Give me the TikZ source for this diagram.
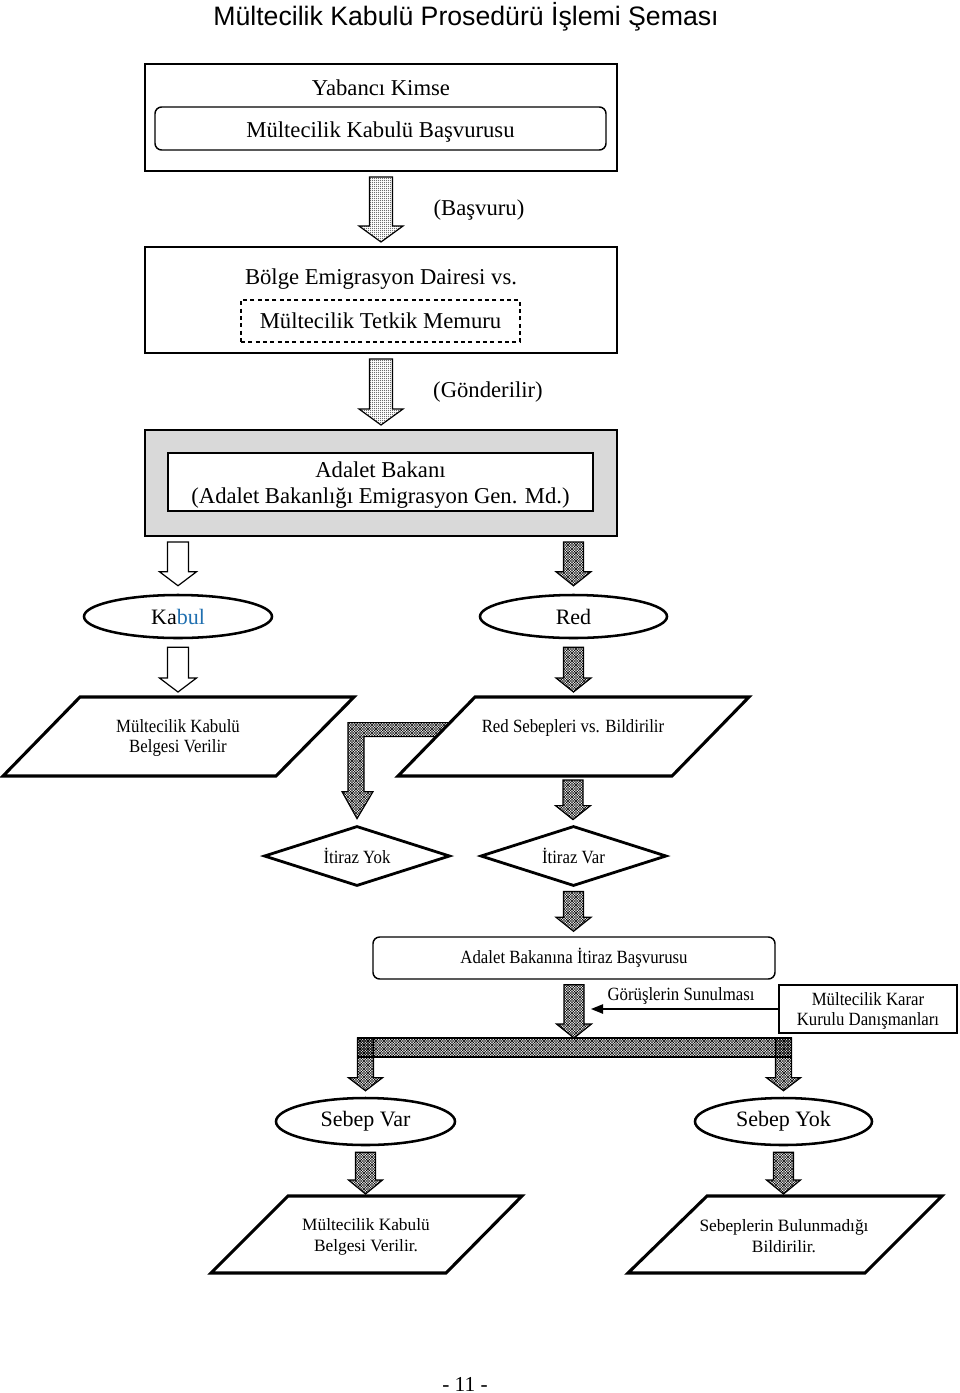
\documentclass[tikz,border=0pt]{standalone}
\usepackage{fontspec}
\setmainfont{Liberation Serif}
\newfontfamily\narrowfont[FakeStretch=0.9]{Liberation Serif}
\newfontfamily\titlefont{Liberation Sans}
\usetikzlibrary{shapes.geometric,calc,patterns,arrows.meta}
\definecolor{boxgray}{RGB}{217,217,217}
\definecolor{kabulblue}{RGB}{31,111,176}
\pgfdeclarepatternformonly{finedots}{\pgfpointorigin}{\pgfpoint{1.5pt}{1.5pt}}{\pgfpoint{1.5pt}{1.5pt}}%
  {\pgfpathcircle{\pgfpoint{0.75pt}{0.75pt}}{0.5pt}\pgfusepath{fill}}
\pgfdeclarepatternformonly{finechecks}{\pgfpoint{-0.1pt}{-0.1pt}}{\pgfpoint{2.1pt}{2.1pt}}{\pgfpoint{2pt}{2pt}}%
  {\pgfsetlinewidth{0.32pt}%
   \pgfpathmoveto{\pgfpointorigin}\pgfpathlineto{\pgfpoint{2pt}{2pt}}%
   \pgfpathmoveto{\pgfpoint{0pt}{2pt}}\pgfpathlineto{\pgfpoint{2pt}{0pt}}\pgfusepath{stroke}}
\newcommand\blockarrow[6]{% style, start, tip, shaft half width, head half width, head length
  \path (#2) coordinate (ba-s) (#3) coordinate (ba-e);
  \draw[#1] ($(ba-s)+(-#4,0)$) -- ($(ba-s)+(#4,0)$) -- ($(ba-s |- ba-e)+(#4,-#6)$)
    -- ($(ba-s |- ba-e)+(#5,-#6)$) -- (ba-s |- ba-e) -- ($(ba-s |- ba-e)+(-#5,-#6)$)
    -- ($(ba-s |- ba-e)+(-#4,-#6)$) -- cycle;
}

\begin{document}
\begin{tikzpicture}[x=0.75pt,y=-0.75pt,
    bigtext/.style={font=\fontsize{17}{19.5}\selectfont,align=center},
    smalltext/.style={font=\narrowfont\fontsize{14}{15}\selectfont,align=center},
    bigbox/.style={draw,line width=2.2pt,minimum width=354pt,minimum height=79.5pt,inner sep=0,outer sep=0},
    roundbox/.style={draw,line width=1.1pt,rounded corners=5pt,inner sep=0},
    oval/.style={draw,ellipse,line width=1.9pt,inner sep=0,font=\fontsize{16.5}{19}\selectfont},
    rhomb/.style={draw,diamond,aspect=3.1,line width=2.1pt,minimum width=139.5pt,minimum height=45pt,inner sep=0,smalltext},
    para/.style={draw,fill=white,line width=2.3pt,line join=miter},
    dotarrow/.style={draw,line width=0.9pt,pattern=finedots},
    checkarrow/.style={draw,line width=0.9pt,pattern=finechecks},
    whitearrow/.style={draw,line width=0.9pt,fill=white}]
  \useasboundingbox (0,0) rectangle (960,1393);

  \node[font=\titlefont\fontsize{20}{24}\selectfont] (title) at (466,17) {Mültecilik Kabulü Prosedürü İşlemi Şeması};

  % first step
  \node[bigbox,minimum height=80.25pt] (box1) at (381,117.5) {};
  \node[bigtext] (yabanci) at (381,88) {Yabancı Kimse};
  \node[roundbox,minimum width=338.25pt,minimum height=32.25pt] (basvuru) at (380.5,128.5) {};
  \node[bigtext] (basvurutxt) at (380.5,132) {Mültecilik Kabulü Başvurusu};

  \node[bigbox] (box2) at (381,300) {};
  \node[bigtext] (bolge) at (381,279) {Bölge Emigrasyon Dairesi vs.};
  \node[draw,dashed,dash pattern=on 3pt off 2.5pt,line width=1.1pt,minimum width=209.25pt,minimum height=31.5pt,inner sep=0,bigtext] (tetkik) at (380.5,321) {Mültecilik Tetkik Memuru};

  \node[bigbox,fill=boxgray] (box3) at (381,483) {};
  \node[draw,fill=white,line width=1.1pt,minimum width=318.75pt,minimum height=43.5pt,inner sep=0] (bakan) at (380.5,482) {};
  \node[bigtext] (bakantxt) at (380.5,485) {Adalet Bakanı\\(Adalet Bakanlığı Emigrasyon Gen. Md.)};

  \blockarrow{dotarrow}{$(box1.south)+(0,6)$}{$(box2.north)+(0,-5)$}{11.5}{22}{16}
  \node[bigtext] (basvurulbl) at (479,210) {(Başvuru)};
  \blockarrow{dotarrow}{$(box2.south)+(0,6)$}{$(box3.north)+(0,-5)$}{11.5}{22}{16}
  \node[bigtext] (gonderlbl) at (488,392) {(Gönderilir)};

  % decision
  \node[oval,minimum width=141pt,minimum height=32.25pt] (kabul) at (178,616.5) {Ka\textcolor{kabulblue}{bul}};
  \node[oval,minimum width=140.25pt,minimum height=32.25pt] (red) at (573.5,616.5) {Red};
  \blockarrow{whitearrow}{$(box3.south -| kabul)+(0,6)$}{$(kabul.north)+(0,-8)$}{10.5}{18.5}{14}
  \blockarrow{checkarrow}{$(box3.south -| red)+(0,6)$}{$(red.north)+(0,-8)$}{10}{17.5}{14}

  \coordinate (kbtop) at (178,697);
  \coordinate (redtop) at (573,697);
  \blockarrow{whitearrow}{$(kabul.south)+(0,8)$}{$(kbtop)+(0,-5)$}{10.5}{18.5}{14}
  \blockarrow{checkarrow}{$(red.south)+(0,8)$}{$(redtop)+(0,-5)$}{10}{17.5}{14}

  \node[rhomb] (ityok) at (357,856) {İtiraz Yok};
  \node[rhomb] (itvar) at (573.5,856) {İtiraz Var};

  % bent arrow under the red parallelogram
  \coordinate (bt) at ($(ityok.north)+(0,-6)$);
  \draw[checkarrow] (bt) -- ++(16,-27) -- ++(-9,0) -- ++(0,-55) -- ++(90,0) -- ++(0,-14)
    -- ++(-106,0) -- ++(0,69) -- ++(-6,0) -- cycle;

  \draw[para] (80,697) -- (354,697) -- (276,776) -- (3,776) -- cycle;
  \node[smalltext] (kbbelge) at (178,738) {Mültecilik Kabulü\\Belgesi Verilir};
  \draw[para] (475,697) -- (749,697) -- (672,776) -- (398,776) -- cycle;
  \node[smalltext] (redbildir) at (573,728) {Red Sebepleri vs. Bildirilir};
  \coordinate (redbot) at (573,776);

  \blockarrow{checkarrow}{$(redbot)+(0,4)$}{$(itvar.north)+(0,-5)$}{10}{17.5}{14}

  % objection
  \node[roundbox,minimum width=301.5pt,minimum height=31.5pt,smalltext] (itbas) at (574,958) {Adalet Bakanına İtiraz Başvurusu};
  \blockarrow{checkarrow}{$(itvar.south)+(0,4)$}{$(itbas.north)+(0,-5)$}{10}{17.5}{14}

  \node[draw,line width=1.1pt,minimum width=133.5pt,minimum height=36pt,inner sep=0] (karar) at (868,1009) {};
  \node[smalltext] (karartxt) at (868,1011) {Mültecilik Karar\\Kurulu Danışmanları};
  \node[smalltext] (gorus) at (681,996) {Görüşlerin Sunulması};

  \node[oval,minimum width=134.25pt,minimum height=35.25pt] (sebvar) at (365.5,1121.5) {Sebep Var};
  \node[oval,minimum width=132.75pt,minimum height=35.25pt] (sebyok) at (783.5,1121.5) {Sebep Yok};

  \coordinate (fork) at (573,1038);
  \draw[checkarrow] ($(fork -| sebvar)+(-8,0)$) rectangle ($(fork -| sebyok)+(8,19)$);
  \blockarrow{checkarrow}{fork -| sebvar}{$(sebvar.north)+(0,-6)$}{8}{17}{13}
  \blockarrow{checkarrow}{fork -| sebyok}{$(sebyok.north)+(0,-6)$}{8}{17}{13}
  \blockarrow{checkarrow}{$(itbas.south)+(0,5)$}{fork}{10}{17.5}{14}

  \coordinate (gorend) at (591,1012);
  \draw[line width=1pt,-{Triangle[length=9pt,width=7pt]}] (karar.west) -- (karar.west -| gorend);

  % results
  \coordinate (svtop) at (366,1196);
  \coordinate (sytop) at (784,1196);
  \blockarrow{checkarrow}{$(sebvar.south)+(0,6)$}{$(svtop)+(0,-2)$}{10}{17}{14}
  \blockarrow{checkarrow}{$(sebyok.south)+(0,6)$}{$(sytop)+(0,-2)$}{10}{17}{14}

  \draw[para] (288,1196) -- (522,1196) -- (446,1273) -- (211,1273) -- cycle;
  \node[font=\fontsize{13}{15.75}\selectfont,align=center] (svbelge) at (366,1236.5) {Mültecilik Kabulü\\Belgesi Verilir.};
  \draw[para] (707,1196) -- (942,1196) -- (865,1273) -- (628,1273) -- cycle;
  \node[font=\fontsize{13}{15.75}\selectfont,align=center] (sybildir) at (784,1236.5) {Sebeplerin Bulunmadığı\\Bildirilir.};

  \node[font=\fontsize{16}{19}\selectfont] (sayfa) at (465,1384) {- 11 -};
\end{tikzpicture}
\end{document}
